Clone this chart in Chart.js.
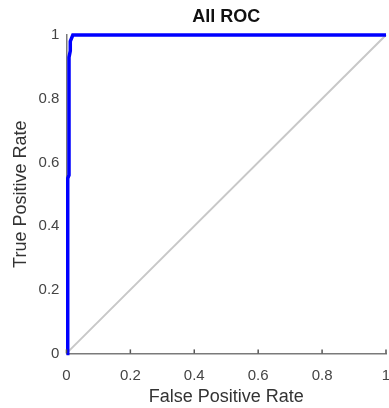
<!DOCTYPE html>
<html>
<head>
<meta charset="utf-8">
<script src="https://cdn.jsdelivr.net/npm/chart.js@4/dist/chart.umd.min.js"></script>
<style>
html,body{margin:0;padding:0;background:#fff;}
#wrap{width:389px;height:408px;}
</style>
</head>
<body>
<div id="wrap"><canvas id="c" width="389" height="408"></canvas></div>
<script>
// ROC curve
const rocFPR = [0, 0.004, 0.004, 0.008, 0.008, 0.012, 0.012, 0.02, 1];
const rocTPR = [0, 0.0, 0.55, 0.56, 0.93, 0.95, 0.98, 1, 1];
// chance diagonal
const diagFPR = [0, 1];
const diagTPR = [0, 1];
// tick labels
const tickValues = [0, 0.2, 0.4, 0.6, 0.8, 1];
const tickLabels = ['0', '0.2', '0.4', '0.6', '0.8', '1'];
const chartTitle = 'All ROC';

const toPts = (xs, ys) => xs.map((x, i) => ({x: x, y: ys[i]}));

const inwardTicks = {
  id: 'inwardTicks',
  afterDatasetsDraw(chart) {
    const ctx = chart.ctx, xs = chart.scales.x;
    const a = chart.chartArea;
    ctx.save();
    ctx.strokeStyle = '#555';
    ctx.lineWidth = 1.5;
    tickValues.forEach(v => {
      const px = xs.getPixelForValue(v);
      ctx.beginPath(); ctx.moveTo(px, a.bottom); ctx.lineTo(px, a.bottom - 4); ctx.stroke();
    });
    ctx.restore();
  }
};

const plotTitle = {
  id: 'plotTitle',
  afterDraw(chart) {
    const ctx = chart.ctx, a = chart.chartArea;
    ctx.save();
    ctx.fillStyle = '#111';
    ctx.font = 'bold 18px "Liberation Sans", Arial, sans-serif';
    ctx.textAlign = 'center';
    ctx.textBaseline = 'middle';
    ctx.fillText(chartTitle, (a.left + a.right) / 2, 17);
    ctx.restore();
  }
};

new Chart(document.getElementById('c'), {
  type: 'line',
  data: {
    datasets: [
      {
        data: toPts(rocFPR, rocTPR),
        borderColor: '#0000ff',
        borderWidth: 3.5,
        pointRadius: 0,
        tension: 0,
        clip: 6
      },
      {
        data: toPts(diagFPR, diagTPR),
        borderColor: '#c8c8c8',
        borderWidth: 2,
        pointRadius: 0,
        tension: 0,
        clip: 6
      }
    ]
  },
  options: {
    responsive: false,
    animation: false,
    layout: {padding: {left: 10, right: 3, top: 35, bottom: 0}},
    plugins: {
      legend: {display: false},
      tooltip: {enabled: false},
      title: {display: false}
    },
    scales: {
      x: {
        type: 'linear',
        min: 0, max: 1,
        afterBuildTicks(s) { s.ticks = tickValues.map(v => ({value: v})); },
        afterFit(s) { s.paddingRight = 0; s.paddingLeft = 0; },
        grid: {display: false},
        border: {display: true, color: '#7a7a7a', width: 1.5},
        ticks: {
          callback: (v, i) => tickLabels[i],
          color: '#444',
          font: {family: 'Liberation Sans, Arial, sans-serif', size: 15},
          padding: 5,
          maxRotation: 0
        },
        title: {
          display: true,
          text: 'False Positive Rate',
          color: '#333',
          font: {family: 'Liberation Sans, Arial, sans-serif', size: 18},
          padding: {top: -3, bottom: 0}
        }
      },
      y: {
        type: 'linear',
        min: 0, max: 1,
        afterBuildTicks(s) { s.ticks = tickValues.map(v => ({value: v})); },
        afterFit(s) { s.paddingTop = 0; s.paddingBottom = 0; },
        grid: {display: false, drawTicks: false, tickLength: 0},
        border: {display: true, color: '#7a7a7a', width: 1.5},
        ticks: {
          callback: (v, i) => tickLabels[i],
          color: '#444',
          font: {family: 'Liberation Sans, Arial, sans-serif', size: 15},
          padding: 7
        },
        title: {
          display: true,
          text: 'True Positive Rate',
          color: '#333',
          font: {family: 'Liberation Sans, Arial, sans-serif', size: 18},
          padding: {top: 0, bottom: 0}
        }
      }
    }
  },
  plugins: [inwardTicks, plotTitle]
});
</script>
</body>
</html>
